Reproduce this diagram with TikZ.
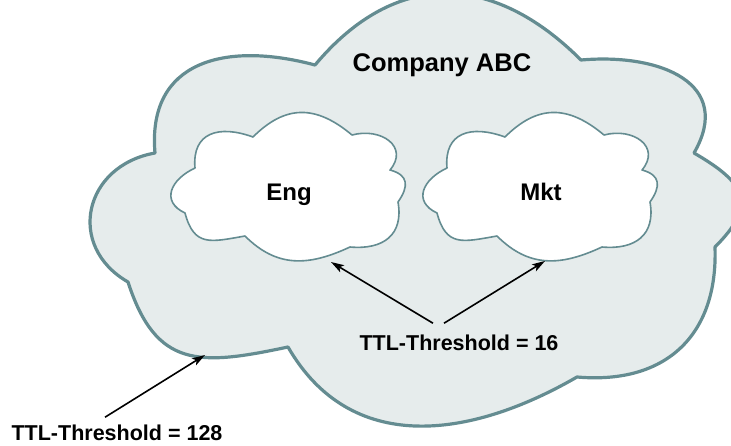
\documentclass[tikz,border=0pt]{standalone}
\usepackage{fontspec}
\setmainfont{Liberation Sans}
\usetikzlibrary{arrows.meta}
\definecolor{cloudline}{RGB}{100,140,145}
\definecolor{cloudfill}{RGB}{230,236,236}

\begin{document}
\begin{tikzpicture}[x=1pt, y=1pt, >={Stealth[length=13pt,width=8pt,inset=3pt]}, line join=round]
	\tikzstyle{outer} = [draw=cloudline, fill=cloudfill, line width=3.2pt];
	\tikzstyle{inner} = [draw=cloudline, fill=white, line width=1.6pt];
	\tikzstyle{big} = [font=\bfseries\fontsize{25.5}{30}\selectfont, inner sep=0pt, anchor=base];
	\tikzstyle{lbl} = [font=\bfseries\fontsize{24}{28}\selectfont, inner sep=0pt, anchor=base];
	\tikzstyle{ttl} = [font=\bfseries\fontsize{21.5}{25}\selectfont, inner sep=0pt, anchor=base];
	\tikzstyle{ptr} = [->, black, line width=1.6pt];

	\useasboundingbox (0,0) rectangle (731,-445);
	\clip (0,0) rectangle (731,-445);

	% company cloud
	\draw[outer] (155,-153) to[out=95,in=165,looseness=1.3] (315,-65)
		to[out=50,in=135,looseness=1.2] (581,-60)
		to[out=5,in=60,looseness=1.4] (694,-153)
		to[out=-30,in=45,looseness=1.6] (715,-247)
		to[out=-88,in=-5,looseness=1.2] (577,-377)
		to[out=-150,in=-60,looseness=1.1] (288,-347)
		to[out=192,in=-72,looseness=1.35] (128,-282)
		to[out=150,in=190,looseness=1.4] (155,-153) -- cycle;

	\node[big] (abc) at (442,-71.5) {Company ABC};

	% group clouds
	\foreach \dx/\name in {0/Eng, 252/Mkt} {
		\begin{scope}[xshift=\dx]
			\draw[inner] (195,-168) to[out=95,in=160,looseness=1.4] (253,-137)
				to[out=45,in=140,looseness=1.2] (352,-135)
				to[out=15,in=50,looseness=1.5] (390,-170)
				to[out=-15,in=55,looseness=1.5] (398,-202)
				to[out=-80,in=-5,looseness=1.3] (350,-247)
				to[out=205,in=-45,looseness=1.1] (245,-236)
				to[out=190,in=-75,looseness=1.4] (185,-213)
				to[out=155,in=205,looseness=1.5] (195,-168) -- cycle;
			\node[lbl] (\name) at (289,-200) {\name};
		\end{scope}
	}

	\node[ttl] (ttl16) at (459,-350) {TTL-Threshold = 16};
	\node[ttl] (ttl128) at (117,-440) {TTL-Threshold = 128};

	\coordinate (engfoot) at (331,-262);
	\coordinate (mktfoot) at (545,-261);
	\coordinate (abcedge) at (205,-355);

	\draw[ptr] ([xshift=-26pt,yshift=11pt]ttl16.north) -- (engfoot);
	\draw[ptr] ([xshift=-15pt,yshift=11pt]ttl16.north) -- (mktfoot);
	\draw[ptr] ([xshift=-12pt,yshift=7pt]ttl128.north) -- (abcedge);
\end{tikzpicture}
\end{document}
